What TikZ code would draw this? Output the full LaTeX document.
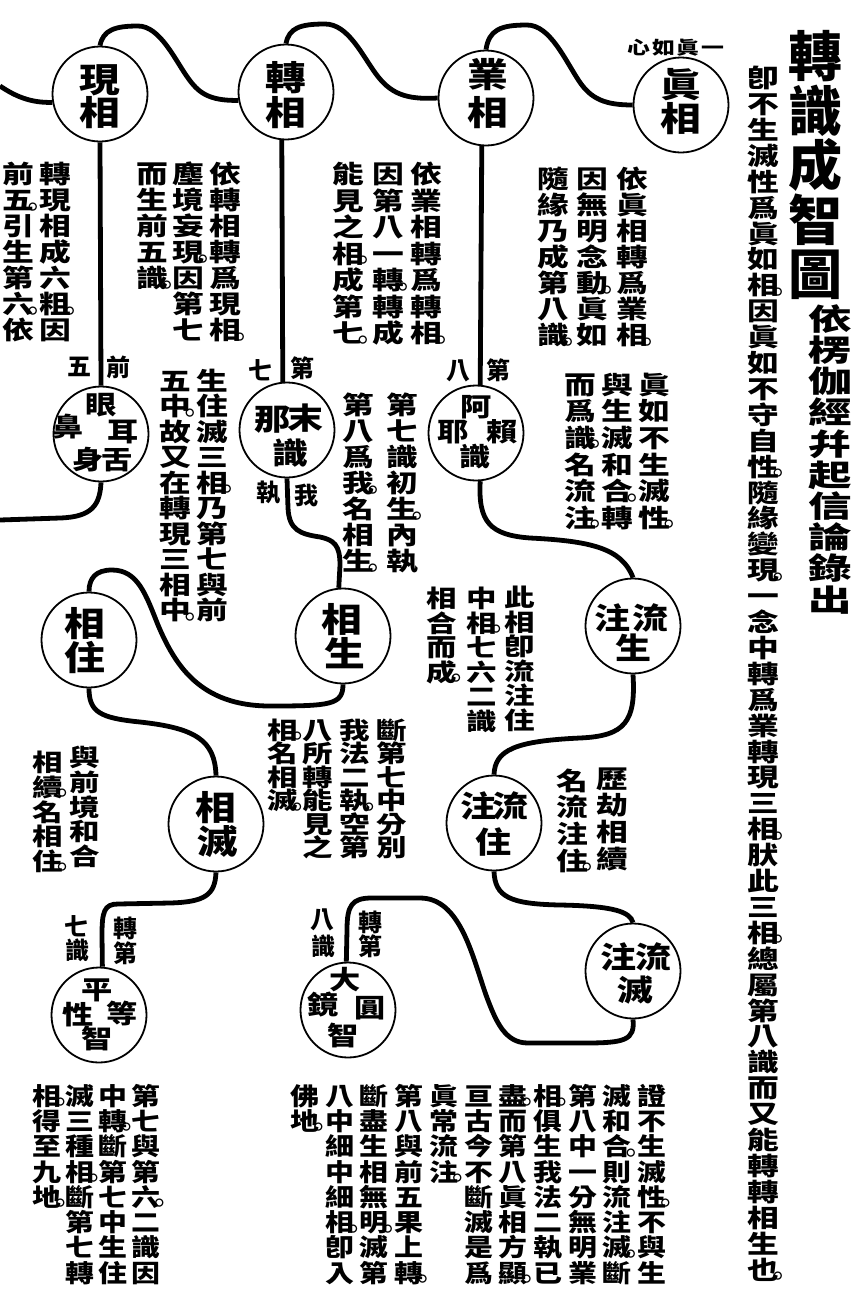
\documentclass[tikz,border=0pt]{standalone}
\usepackage{fontspec}
\usetikzlibrary{backgrounds}
\newfontfamily\cjkA[FakeStretch=1.27]{Noto Sans CJK TC}
\newfontfamily\cjkC[FakeStretch=1.18]{Noto Sans CJK TC}
\newfontfamily\cjkB[FakeStretch=1.2]{Noto Sans CJK TC}
\newfontfamily\cjkS[FakeStretch=1.45]{Noto Sans CJK TC}
\newfontfamily\cjkN{Noto Sans CJK TC}
\makeatletter
\newdimen\VCp \VCp=26pt
\newsavebox\VCbox
\newcommand\VC[1]{\vbox{\offinterlineskip\VC@loop#1\VC@end}}
\def\VC@end{\VC@end}
\def\VC@loop#1{\ifx\VC@end#1\else\def\VC@cur{#1}\expandafter\VC@peek\fi}
\def\VC@peek{\@ifnextchar。{\VC@dot}{\VC@put{}\VC@loop}}
\def\VC@dot。{\VC@put{\VC@circ}\VC@loop}
\def\VC@put#1{\hbox{\vrule height\dimexpr0.88em+(\VCp-1em)/2\relax depth\dimexpr0.12em+(\VCp-1em)/2\relax width0pt\relax\VC@cur\rlap{#1}}}
\def\VC@circ{\sbox\VCbox{\cjkN\bfseries\fontsize{9}{9}\selectfont 〇}\kern-1pt\raise\dimexpr(\dp\VCbox-\ht\VCbox)/2+3pt\relax\hbox to0pt{\hss\usebox\VCbox\hss}}
\makeatother
\tikzset{
 body/.style={inner sep=0pt, anchor=north, font=\cjkA\bfseries\fontsize{25}{25}\selectfont},
 bodys/.style={inner sep=0pt, anchor=north, font=\cjkA\bfseries\fontsize{24}{24}\selectfont},
 bodyb/.style={inner sep=0pt, anchor=north, font=\cjkC\bfseries\fontsize{24.5}{24.5}\selectfont},
 pitch/.style={execute at begin node={\VCp=#1pt\relax}},
 circ/.style={circle, draw, fill=white, line width=1.8pt, minimum size=95pt, inner sep=0pt},
 conn/.style={line width=4.8pt},
 cbig/.style={inner sep=0pt, font=\cjkB\bfseries\fontsize{34}{34}\selectfont},
 cmid/.style={inner sep=0pt, font=\cjkB\bfseries\fontsize{30}{30}\selectfont},
 csml/.style={inner sep=0pt, font=\cjkB\bfseries\fontsize{26}{26}\selectfont},
 lab/.style={inner sep=0pt, font=\cjkN\bfseries\fontsize{24}{24}\selectfont},
 ttl/.style={inner sep=0pt, anchor=north, font=\cjkN\bfseries\fontsize{54}{54}\selectfont},
 subttl/.style={inner sep=0pt, anchor=north, font=\cjkS\bfseries\fontsize{30}{30}\selectfont},
}
\begin{document}
\begin{tikzpicture}[x=1pt,y=-1pt]
\useasboundingbox (0,0) rectangle (855,1293);
% title
\node[ttl,pitch=54.5] (tt) at (815,29) {\VC{轉識成智圖}};
\node[subttl,pitch=31.2] (st) at (830,303) {\VC{依楞伽經幷起信論錄出}};
\node[body,pitch=25.9] (rc) at (763,65) {\VC{卽不生滅性爲眞如相。因眞如不守自性。隨緣變現。一念中轉爲業轉現三相。肰此三相。總屬第八識而又能轉轉相生也。}};
% circles
\node[circ] (zhen) at (681,105) {};
\node[circ] (ye) at (486,98) {};
\node[circ] (zhuan) at (286,92) {};
\node[circ] (xian) at (100,94) {};
\node[circ] (yan) at (101,434) {};
\node[circ] (mona) at (287,430) {};
\node[circ] (alaya) at (476,433) {};
\node[circ] (lzs) at (633,626) {};
\node[circ] (xsheng) at (343,636) {};
\node[circ] (xzhu) at (89,640) {};
\node[circ] (lzz) at (494,823) {};
\node[circ] (xmie) at (216,824) {};
\node[circ] (lzm) at (633,971) {};
\node[circ] (dym) at (348,1010) {};
\node[circ] (pd) at (99,1015) {};
\coordinate (L0) at (0,86);
\coordinate (L1) at (0,520);
% connectors
\begin{pgfonlayer}{background}
\draw[conn] (L0) .. controls (15,96) and (30,103) .. (xian.190);
\draw[conn] (xian.north) .. controls (103,30) and (115,26) .. (138,26) .. controls (160,26) and (175,60) .. (188,78) .. controls (198,92) and (208,101) .. (zhuan.190);
\draw[conn] (zhuan.north) .. controls (289,28) and (300,24) .. (325,24) .. controls (348,24) and (362,55) .. (376,74) .. controls (390,93) and (405,100) .. (ye.west);
\draw[conn] (ye.north) .. controls (489,30) and (500,25) .. (527,25) .. controls (550,25) and (565,60) .. (579,81) .. controls (591,99) and (605,105) .. (zhen.west);
\draw[conn] (xian.south) -- (yan.north);
\draw[conn] (zhuan.265) -- (mona.95);
\draw[conn] (ye.265) -- (alaya.85);
\draw[conn] (yan.south) .. controls (100,505) and (92,517) .. (60,518) -- (L1);
\draw[conn] (mona.south) -- (288,508) .. controls (289,530) and (300,534) .. (320,537) .. controls (334,540) and (340,545) .. (340,565) -- (xsheng.95);
\draw[conn] (xsheng.south) .. controls (343,705) and (330,706) .. (270,706) .. controls (200,706) and (175,665) .. (158,625) .. controls (146,595) and (138,570) .. (112,570) .. controls (96,570) and (89,578) .. (xzhu.north);
\draw[conn] (xzhu.south) .. controls (89,712) and (100,718) .. (140,722) .. controls (195,728) and (215,740) .. (xmie.north);
\draw[conn] (xmie.south) .. controls (215,895) and (205,902) .. (170,903) -- (118,904) .. controls (104,904) and (102,912) .. (102,935) -- (pd.86);
\draw[conn] (alaya.275) .. controls (478,522) and (490,535) .. (530,538) .. controls (590,541) and (622,548) .. (lzs.north);
\draw[conn] (lzs.south) .. controls (636,722) and (625,736) .. (580,738) .. controls (515,741) and (495,750) .. (lzz.north);
\draw[conn] (lzz.south) .. controls (495,897) and (510,904) .. (560,905) .. controls (615,906) and (630,912) .. (lzm.north);
\draw[conn] (lzm.south) .. controls (635,1040) and (625,1043) .. (585,1043) -- (528,1043) .. controls (505,1043) and (496,1022) .. (486,995) .. controls (472,955) and (460,898) .. (420,898) -- (372,898) .. controls (352,898) and (347,905) .. (347,930) -- (dym.92);
\end{pgfonlayer}
% circle texts
\node[cbig] (z1) at (681,85) {眞};
\node[cbig] (z2) at (681,119) {相};
\node[cbig] (y1) at (488,75) {業};
\node[cbig] (y2) at (488,113) {相};
\node[cbig] (zh1) at (286,78) {轉};
\node[cbig] (zh2) at (286,113) {相};
\node[cbig] (x1) at (100,80) {現};
\node[cbig] (x2) at (100,113) {相};
\node[cbig] (s1) at (342,620) {相};
\node[cbig] (s2) at (345,653) {生};
\node[cbig] (u1) at (85,624) {相};
\node[cbig] (u2) at (85,657) {住};
\node[cbig] (m1) at (216,808) {相};
\node[cbig] (m2) at (218,842) {滅};
\node[csml] (e1c) at (101,405) {眼};
\node[csml] (e2c) at (123,432) {耳};
\node[csml] (e3c) at (68,427) {鼻};
\node[csml] (e4c) at (117,460) {舌};
\node[csml] (e5c) at (88,460) {身};
\node[cmid] (n1) at (305,418) {末};
\node[cmid] (n2) at (272,420) {那};
\node[cmid] (n3) at (290,453) {識};
\node[csml] (a1c) at (476,407) {阿};
\node[csml] (a2c) at (502,432) {賴};
\node[csml] (a3c) at (453,432) {耶};
\node[csml] (a4c) at (475,457) {識};
\node[cmid] (p1) at (650,618) {流};
\node[cmid] (p2) at (612,618) {注};
\node[cmid] (p3) at (633,648) {生};
\node[cmid] (q1) at (510,806) {流};
\node[cmid] (q2) at (478,806) {注};
\node[cmid] (q3) at (493,842) {住};
\node[cmid] (r1) at (653,957) {流};
\node[cmid] (r2) at (618,957) {注};
\node[cmid] (r3) at (635,990) {滅};
\node[csml] (d1c) at (345,980) {大};
\node[csml] (d2c) at (370,1008) {圓};
\node[csml] (d3c) at (323,1005) {鏡};
\node[csml] (d4c) at (343,1035) {智};
\node[csml] (g1c) at (97,990) {平};
\node[csml] (g2c) at (122,1013) {等};
\node[csml] (g3c) at (78,1015) {性};
\node[csml] (g4c) at (97,1038) {智};
% small labels
\node[lab] (l1) at (118,367) {前};
\node[lab] (l2) at (79,367) {五};
\node[lab] (l3) at (302,368) {第};
\node[lab] (l4) at (260,370) {七};
\node[lab] (l5) at (306,495) {我};
\node[lab] (l6) at (268,493) {執};
\node[lab] (l7) at (498,370) {第};
\node[lab] (l8) at (458,371) {八};
\node[lab] (l9) at (125,928) {轉};
\node[lab] (l10) at (125,953) {第};
\node[lab] (l11) at (76,926) {七};
\node[lab] (l12) at (77,950) {識};
\node[lab] (l13) at (370,922) {轉};
\node[lab] (l14) at (370,946) {第};
\node[lab] (l15) at (322,920) {八};
\node[lab] (l16) at (323,946) {識};
\node[inner sep=0pt, font=\cjkA\bfseries\fontsize{18}{18}\selectfont] (hdr) at (676,48) {心\kern2pt 如\kern2pt 眞\kern2pt 一};
% block A
\node[body,pitch=26] (ta1) at (632,166) {\VC{依眞相轉爲業相。}};
\node[body,pitch=26] (ta2) at (592,166) {\VC{因無明念動。眞如}};
\node[body,pitch=26] (ta3) at (553,166) {\VC{隨緣乃成第八識。}};
% block B
\node[body,pitch=26.7] (tb1) at (654,371) {\VC{眞如不生滅性。}};
\node[body,pitch=26.7] (tb2) at (617,371) {\VC{與生滅和合。轉}};
\node[body,pitch=26.7] (tb3) at (580,371) {\VC{而爲識。名流注。}};
% block C
\node[body,pitch=26.5] (tc1) at (426,161) {\VC{依業相轉爲轉相。}};
\node[body,pitch=26.5] (tc2) at (388,161) {\VC{因第八一轉。轉成}};
\node[body,pitch=26.5] (tc3) at (348,161) {\VC{能見之相。成第七。}};
% block D
\node[body,pitch=26] (td1) at (225,161) {\VC{依轉相轉爲現相。}};
\node[body,pitch=26] (td2) at (188,161) {\VC{塵境妄現。因第七}};
\node[body,pitch=26] (td3) at (152,161) {\VC{而生前五識。}};
% block E
\node[body,pitch=26] (te1) at (55,161) {\VC{轉現相成六粗。因}};
\node[body,pitch=26] (te2) at (18,161) {\VC{前五。引生第六。依}};
% block F
\node[body,pitch=25.5] (tf1) at (212,368) {\VC{生住滅三相。乃第七與前}};
\node[body,pitch=25.5] (tf2) at (175,368) {\VC{五中。故又在轉現三相中。}};
% block G
\node[body,pitch=26] (tg1) at (402,392) {\VC{第七識初生。內執}};
\node[body,pitch=26] (tg2) at (358,392) {\VC{第八爲我。名相生。}};
% block H
\node[bodys,pitch=24.5] (th1) at (520,585) {\VC{此相卽流注住}};
\node[bodys,pitch=24.5] (th2) at (482,586) {\VC{中相。七六二識}};
\node[bodys,pitch=24.5] (th3) at (442,586) {\VC{相合而成。}};
% block I
\node[bodys,pitch=23.5] (ti1) at (392,718) {\VC{斷第七中分別}};
\node[bodys,pitch=23.5] (ti2) at (355,718) {\VC{我法二執。空第}};
\node[bodys,pitch=23.5] (ti3) at (318,718) {\VC{八所轉能見之}};
\node[bodys,pitch=23.5] (ti4) at (283,718) {\VC{相。名相滅。}};
% block J
\node[bodys,pitch=24.7] (tj1) at (85,745) {\VC{與前境和合}};
\node[bodys,pitch=24.7] (tj2) at (48,750) {\VC{相續。名相住。}};
% block K
\node[body,pitch=26.7] (tk1) at (612,765) {\VC{歷劫相續}};
\node[body,pitch=26.7] (tk2) at (572,767) {\VC{名流注住。}};
% block L
\node[bodyb,pitch=25.3] (tl1) at (652,1083) {\VC{證不生滅性。不與生}};
\node[bodyb,pitch=25.3] (tl2) at (617.3,1083) {\VC{滅和合。則流注滅。斷}};
\node[bodyb,pitch=25.3] (tl3) at (582.6,1083) {\VC{第八中一分無明業}};
\node[bodyb,pitch=25.3] (tl4) at (547.9,1083) {\VC{相。俱生我法二執已}};
\node[bodyb,pitch=25.3] (tl5) at (513.2,1083) {\VC{盡。而第八眞相方顯。}};
\node[bodyb,pitch=25.3] (tl6) at (478.5,1083) {\VC{亘古今不斷滅是爲}};
\node[bodyb,pitch=25.3] (tl7) at (443.8,1083) {\VC{眞常流注。}};
\node[bodyb,pitch=25.3] (tl8) at (409.1,1083) {\VC{第八與前五果上轉。}};
\node[bodyb,pitch=25.3] (tl9) at (374.4,1083) {\VC{斷盡生相無明。滅第}};
\node[bodyb,pitch=25.3] (tl10) at (339.7,1083) {\VC{八中細中細相。卽入}};
\node[bodyb,pitch=25.3] (tl11) at (305,1083) {\VC{佛地。}};
% block M
\node[bodyb,pitch=25.3] (tm1) at (146,1083) {\VC{第七與第六。二識因}};
\node[bodyb,pitch=25.3] (tm2) at (113,1083) {\VC{中轉。斷第七中生住}};
\node[bodyb,pitch=25.3] (tm3) at (80,1083) {\VC{滅三種相。斷第七轉}};
\node[bodyb,pitch=25.3] (tm4) at (47,1083) {\VC{相。得至九地。}};
\end{tikzpicture}
\end{document}
